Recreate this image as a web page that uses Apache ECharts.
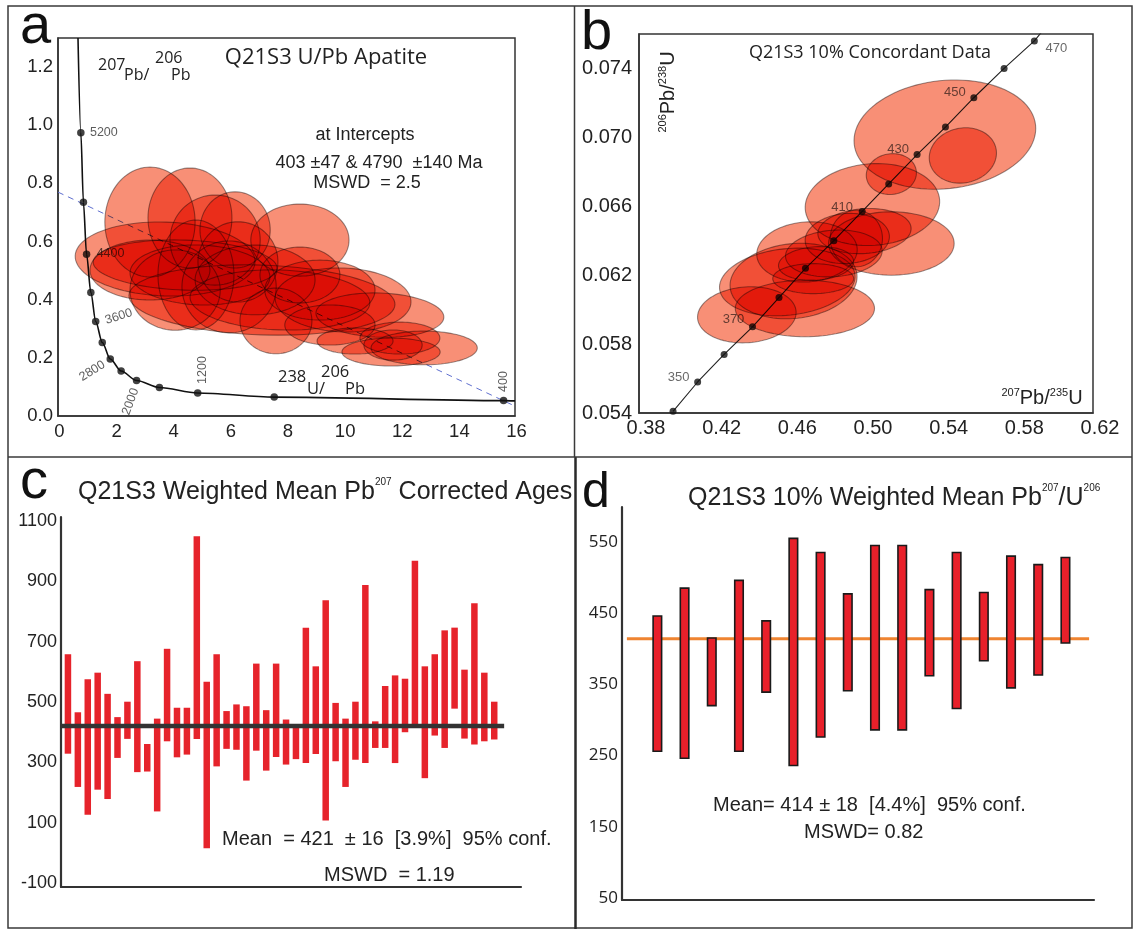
<!DOCTYPE html>
<html>
<head>
<meta charset="utf-8">
<title>Q21S3 apatite U/Pb</title>
<script src="https://cdn.jsdelivr.net/npm/echarts@6/dist/echarts.min.js"></script>
<style>
  html, body { margin: 0; padding: 0; background: #ffffff; }
  #chart { width: 1133px; height: 929px; }
</style>
</head>
<body>
<div id="chart"></div>
<script>
// ---------------- a: Tera-Wasserburg plot ----------------
const twAges = [5200, 4800, 4400, 4000, 3600, 3200, 2800, 2400, 2000, 1600, 1200, 800, 400];
const twX = [0.80, 0.89, 1.00, 1.15, 1.32, 1.55, 1.83, 2.21, 2.75, 3.55, 4.89, 7.57, 15.60];
const twY = [0.974, 0.735, 0.556, 0.425, 0.325, 0.253, 0.196, 0.155, 0.122, 0.098, 0.079, 0.065, 0.053];
const twCurveTop = [0.70, 1.30];
const twCurveEnd = [16.0, 0.052];
const twLabelled = [5200, 4400, 3600, 2800, 2000, 1200, 400];
const discordia = [[0, 0.770], [16, 0.034]];
const aXTicks = [0, 2, 4, 6, 8, 10, 12, 14, 16];
const aYTicks = [0, 0.2, 0.4, 0.6, 0.8, 1.0, 1.2];

// error ellipses: centre, semi-axes, tilt (deg)
const aCx = [3.22, 4.62, 5.50, 8.47, 6.30, 3.75, 4.45, 3.22, 4.97, 4.83, 5.99, 7.14, 7.77, 7.63, 9.17, 11.27, 9.98, 12.82, 11.66, 10.40, 11.73, 9.52, 11.97, 6.90, 4.10, 8.47, 6.20];
const aCy = [0.667, 0.681, 0.605, 0.605, 0.530, 0.540, 0.519, 0.502, 0.485, 0.485, 0.444, 0.399, 0.399, 0.327, 0.433, 0.347, 0.399, 0.234, 0.220, 0.258, 0.244, 0.313, 0.268, 0.468, 0.433, 0.485, 0.640];
const aRx = [1.58, 1.47, 1.58, 1.72, 1.40, 3.15, 3.22, 2.10, 2.45, 1.33, 1.65, 4.66, 3.15, 1.26, 1.93, 2.24, 2.38, 1.86, 1.72, 1.33, 1.02, 1.58, 1.40, 2.10, 1.58, 1.40, 1.23];
const aRy = [0.189, 0.172, 0.155, 0.124, 0.138, 0.127, 0.086, 0.103, 0.103, 0.189, 0.158, 0.120, 0.103, 0.113, 0.103, 0.076, 0.110, 0.058, 0.048, 0.045, 0.052, 0.069, 0.055, 0.120, 0.138, 0.096, 0.131];
const aTilt = [0, 0, 0, 0, 0, -2, -2, 0, -2, 0, 0, -2, -2, 0, 0, -2, -2, 0, 0, 0, 0, 0, 0, 0, 0, 0, 0];

// ---------------- b: Wetherill concordia ----------------
const wAges = [340, 350, 360, 370, 380, 390, 400, 410, 420, 430, 440, 450, 460, 470];
const wX = [0.398, 0.411, 0.425, 0.440, 0.454, 0.468, 0.483, 0.498, 0.512, 0.527, 0.542, 0.557, 0.573, 0.589];
const wY = [0.0541, 0.0558, 0.0574, 0.0590, 0.0607, 0.0624, 0.0640, 0.0657, 0.0673, 0.0690, 0.0706, 0.0723, 0.0740, 0.0756];
const wLineEnd = [0.5935, 0.0762];
const wLabelled = [350, 370, 410, 430, 450, 470];
const bXTicks = [0.38, 0.42, 0.46, 0.50, 0.54, 0.58, 0.62];
const bYTicks = [0.054, 0.058, 0.062, 0.066, 0.070, 0.074];

const bCx = [0.5417, 0.5512, 0.5134, 0.5034, 0.5134, 0.4992, 0.4901, 0.4949, 0.4688, 0.4617, 0.4584, 0.4677, 0.4370, 0.4721, 0.4736, 0.4830];
const bCy = [0.07016, 0.06895, 0.06787, 0.06610, 0.06384, 0.06456, 0.06413, 0.06413, 0.06335, 0.06166, 0.06161, 0.06007, 0.05970, 0.06180, 0.06268, 0.06326];
const bRx = [0.0482, 0.0179, 0.0133, 0.0356, 0.0332, 0.0247, 0.0223, 0.0138, 0.0266, 0.0337, 0.0360, 0.0368, 0.0261, 0.0214, 0.0199, 0.0256];
const bRy = [0.00314, 0.00159, 0.00118, 0.00237, 0.00184, 0.00130, 0.00145, 0.00164, 0.00174, 0.00217, 0.00193, 0.00164, 0.00162, 0.00087, 0.00097, 0.00135];
const bTilt = [6, 12, 8, 4, 0, 4, 4, 0, 4, 6, 6, 0, 4, 0, 4, 4];

// ---------------- c: weighted mean, Pb207-corrected ages (Ma) ----------------
const cLow  = [329, 219, 127, 210, 179, 315, 378, 268, 270, 138, 370, 317, 326, 378, 16, 287, 345, 342, 240, 339, 273, 318, 293, 311, 298, 328, 108, 304, 219, 309, 298, 348, 348, 298, 400, 418, 248, 389, 348, 478, 379, 359, 370, 376];
const cHigh = [658, 466, 575, 597, 527, 450, 501, 635, 361, 445, 676, 481, 481, 1048, 567, 658, 470, 492, 486, 627, 473, 627, 442, 422, 746, 618, 837, 497, 445, 501, 887, 436, 553, 588, 577, 967, 618, 658, 737, 746, 607, 827, 597, 501];
const cMean = 421, cErr = 16, cPct = '3.9', cMswd = '1.19';
const cYTicks = [-100, 100, 300, 500, 700, 900, 1100];

// ---------------- d: 10% concordant weighted mean (Ma) ----------------
const dLow  = [256, 246, 320, 256, 339, 236, 276, 341, 286, 286, 362, 316, 383, 345, 363, 408];
const dHigh = [446, 485, 415, 496, 439, 555, 535, 477, 545, 545, 483, 535, 479, 530, 518, 528];
const dMean = 414, dErr = 18, dPct = '4.4', dMswd = '0.82';
const dYTicks = [50, 150, 250, 350, 450, 550];

// ---------------- drawing ----------------
const ARIAL = '"Liberation Sans", Arial, sans-serif';
const HUMAN = '"Open Sans", "Noto Sans", sans-serif';
const INK = '#222';

const chart = echarts.init(document.getElementById('chart'), null, { renderer: 'canvas', width: 1133, height: 929 });

// ellipses are multiplied onto the page so overlaps build up to deep red
function ellipseRenderer(fill, stroke, lw) {
  return function (params, api) {
    const c = api.coord([api.value(0), api.value(1)]);
    const s = api.size([api.value(2), api.value(3)]);
    const t = api.value(4) * Math.PI / 180;
    const pts = [];
    const n = 96;
    for (let k = 0; k < n; k++) {
      const th = (k / n) * Math.PI * 2;
      const ex = s[0] * Math.cos(th), ey = s[1] * Math.sin(th);
      pts.push([c[0] + ex * Math.cos(t) - ey * Math.sin(t), c[1] - (ex * Math.sin(t) + ey * Math.cos(t))]);
    }
    return { type: 'polygon', name: 'errEllipse', shape: { points: pts },
      style: { fill: fill, stroke: stroke, lineWidth: lw, blend: 'multiply' } };
  };
}

function barRenderer(width, fill, stroke, lw) {
  return function (params, api) {
    const top = api.coord([api.value(0), api.value(2)]);
    const bot = api.coord([api.value(0), api.value(1)]);
    return {
      type: 'rect',
      shape: { x: top[0] - width / 2, y: top[1], width: width, height: bot[1] - top[1] },
      style: { fill: fill, stroke: stroke, lineWidth: lw }
    };
  };
}

function valueAxis(grid, min, max, ticks, fmt, labelStyle, lineW) {
  return {
    type: 'value', gridIndex: grid, min: min, max: max,
    splitLine: { show: false }, axisTick: { show: false },
    axisLine: { show: true, onZero: false, lineStyle: { color: '#333', width: lineW } },
    axisLabel: Object.assign({ customValues: ticks, formatter: fmt, color: INK }, labelStyle)
  };
}

const ellipseFill = 'rgba(245, 105, 72, 0.75)';
const ellipseStroke = 'rgba(120, 115, 115, 0.75)';

// label placement around the concordia age markers (screen offset in px, rotation in deg)
const twLabelPlace = {
  5200: { offset: [23, 0], rotate: 0 },
  4400: { offset: [24, -1], rotate: 0 },
  3600: { offset: [23, -5], rotate: 18 },
  2800: { offset: [-18, 12], rotate: 32 },
  2000: { offset: [-6, 21], rotate: 70 },
  1200: { offset: [5, -23], rotate: 90 },
  400:  { offset: [0, -19], rotate: 90 }
};
const wLabelPlace = {
  350: { offset: [-19, -5] },
  370: { offset: [-19, -7] },
  410: { offset: [-20, -4] },
  430: { offset: [-19, -5] },
  450: { offset: [-19, -5] },
  470: { offset: [22, 8] }
};

// label offsets are applied in the label's rotated frame, so turn them back first
function localOffset(d, deg) {
  const th = deg * Math.PI / 180;
  return [d[0] * Math.cos(th) - d[1] * Math.sin(th), d[0] * Math.sin(th) + d[1] * Math.cos(th)];
}

const twDots = twAges.map((age, i) => {
  const item = { value: [twX[i], twY[i]] };
  if (twLabelled.indexOf(age) >= 0) {
    const p = twLabelPlace[age];
    item.label = { show: true, formatter: String(age), position: 'inside', offset: localOffset(p.offset, p.rotate), rotate: p.rotate,
      color: '#333', fontFamily: ARIAL, fontSize: 12.5 };
  }
  return item;
});
const twCurve = [twCurveTop].concat(twX.map((x, i) => [x, twY[i]])).concat([twCurveEnd]);

const wDots = wAges.map((age, i) => {
  const item = { value: [wX[i], wY[i]] };
  if (wLabelled.indexOf(age) >= 0) {
    item.label = { show: true, formatter: String(age), position: 'inside', offset: wLabelPlace[age].offset,
      color: '#444', fontFamily: ARIAL, fontSize: 13 };
  }
  return item;
});
const wCurve = wX.map((x, i) => [x, wY[i]]).concat([wLineEnd]);

const aEllipses = aCx.map((x, i) => [x, aCy[i], aRx[i], aRy[i], aTilt[i]]);
const bEllipses = bCx.map((x, i) => [x, bCy[i], bRx[i], bRy[i], bTilt[i]]);
const cBars = cLow.map((lo, i) => [i + 1, lo, cHigh[i]]);
const dBars = dLow.map((lo, i) => [i + 1, lo, dHigh[i]]);

function text(x, y, str, font, extra) {
  return Object.assign({
    type: 'text', x: x, y: y, z: 50,
    style: Object.assign({ text: str, font: font, fill: INK, align: 'left', verticalAlign: 'middle',
      textAlign: 'left', textVerticalAlign: 'middle' }, extra && extra.style)
  }, extra && extra.el);
}

const supTitle = (main1, sup, main2, size) => ({
  text: '{n|' + main1 + '}{s|' + sup + '}' + (main2 ? '{n|' + main2 + '}' : ''),
  rich: {
    n: { fontSize: size, fontFamily: ARIAL, lineHeight: size + 4, fill: INK, color: INK },
    s: { fontSize: 10, fontFamily: ARIAL, lineHeight: 12, verticalAlign: 'top', fill: INK, color: INK }
  }
});

const graphics = [
  // frame and panel dividers
  { type: 'rect', z: 60, shape: { x: 8, y: 6, width: 1124, height: 922 }, style: { fill: 'none', stroke: '#3a3a3a', lineWidth: 1.5 } },
  { type: 'line', z: 60, shape: { x1: 574.5, y1: 6, x2: 574.5, y2: 457 }, style: { stroke: '#3a3a3a', lineWidth: 1.5 } },
  { type: 'line', z: 60, shape: { x1: 575.5, y1: 457, x2: 575.5, y2: 929 }, style: { stroke: '#2a2a2a', lineWidth: 2.5 } },
  { type: 'line', z: 60, shape: { x1: 8, y1: 457, x2: 1132, y2: 457 }, style: { stroke: '#3a3a3a', lineWidth: 1.5 } },

  // panel letters
  text(20, 28, 'a', '56px ' + ARIAL, { style: { fill: '#111' } }),
  text(581, 34, 'b', '56px ' + ARIAL, { style: { fill: '#111' } }),
  text(20, 483, 'c', '56px ' + ARIAL, { style: { fill: '#111' } }),
  text(582, 493, 'd', '50px ' + ARIAL, { style: { fill: '#111' } }),

  // a annotations
  text(326, 58, 'Q21S3 U/Pb Apatite', '22px ' + HUMAN, { style: { align: 'center', textAlign: 'center' } }),
  text(98, 65, '207', '16px ' + HUMAN),
  text(124, 75, 'Pb/', '16px ' + HUMAN),
  text(155, 58, '206', '16px ' + HUMAN),
  text(171, 75, 'Pb', '16px ' + HUMAN),
  text(278, 377, '238', '16.5px ' + HUMAN),
  text(307, 389, 'U/', '16.5px ' + HUMAN),
  text(321, 372, '206', '16.5px ' + HUMAN),
  text(345, 389, 'Pb', '16.5px ' + HUMAN),
  text(365, 135, 'at Intercepts', '18px ' + ARIAL, { style: { align: 'center', textAlign: 'center' } }),
  text(379, 163, '403 \u00b147 & 4790  \u00b1140 Ma', '18px ' + ARIAL, { style: { align: 'center', textAlign: 'center' } }),
  text(367, 183, 'MSWD  = 2.5', '18px ' + ARIAL, { style: { align: 'center', textAlign: 'center' } }),

  // b annotations
  text(870, 53, 'Q21S3 10% Concordant Data', '18px ' + HUMAN, { style: { align: 'center', textAlign: 'center' } }),
  {
    type: 'text', x: 668, y: 92, z: 50, rotation: Math.PI / 2,
    style: {
      text: '{s|206}{n|Pb/}{s|238}{n|U}', align: 'center', verticalAlign: 'middle', textAlign: 'center', textVerticalAlign: 'middle',
      rich: {
        n: { fontSize: 20, fontFamily: ARIAL, lineHeight: 22, fill: INK, color: INK },
        s: { fontSize: 11, fontFamily: ARIAL, lineHeight: 13, verticalAlign: 'top', fill: INK, color: INK }
      }
    }
  },
  {
    type: 'text', x: 1042, y: 398, z: 50,
    style: {
      text: '{s|207}{n|Pb/}{s|235}{n|U}', align: 'center', verticalAlign: 'middle', textAlign: 'center', textVerticalAlign: 'middle',
      rich: {
        n: { fontSize: 20, fontFamily: ARIAL, lineHeight: 22, fill: INK, color: INK },
        s: { fontSize: 11, fontFamily: ARIAL, lineHeight: 13, verticalAlign: 'top', fill: INK, color: INK }
      }
    }
  },

  // c annotations
  { type: 'text', x: 78, y: 492, z: 50, style: Object.assign({ align: 'left', verticalAlign: 'middle', textAlign: 'left', textVerticalAlign: 'middle' },
      supTitle('Q21S3 Weighted Mean Pb', '207', ' Corrected Ages', 25)) },
  text(222, 839, 'Mean  = ' + cMean + '  \u00b1 ' + cErr + '  [' + cPct + '%]  95% conf.', '20px ' + ARIAL),
  text(324, 875, 'MSWD  = ' + cMswd, '20px ' + ARIAL),

  // d annotations
  { type: 'text', x: 688, y: 498, z: 50, style: Object.assign({ align: 'left', verticalAlign: 'middle', textAlign: 'left', textVerticalAlign: 'middle' },
      { text: '{n|Q21S3 10% Weighted Mean Pb}{s|207}{n|/U}{s|206}',
        rich: {
          n: { fontSize: 25, fontFamily: ARIAL, lineHeight: 29, fill: INK, color: INK },
          s: { fontSize: 10, fontFamily: ARIAL, lineHeight: 12, verticalAlign: 'top', fill: INK, color: INK }
        } }) },
  text(713, 805, 'Mean= ' + dMean + ' \u00b1 ' + dErr + '  [' + dPct + '%]  95% conf.', '20px ' + ARIAL),
  text(804, 832, 'MSWD= ' + dMswd, '20px ' + ARIAL)
];

const option = {
  animation: false,
  backgroundColor: '#ffffff',
  grid: [
    { left: 58, top: 38, width: 457, height: 378, show: true, borderColor: '#333', borderWidth: 1.5, backgroundColor: 'transparent' },
    { left: 639, top: 34, width: 454, height: 379, show: true, borderColor: '#333', borderWidth: 1.5, backgroundColor: 'transparent' },
    { left: 61, top: 517, width: 460, height: 370 },
    { left: 622, top: 507, width: 472, height: 393 }
  ],
  xAxis: [
    valueAxis(0, 0, 16, aXTicks, v => String(v), { fontFamily: ARIAL, fontSize: 18.5, margin: 6, padding: [0, 0, 0, 3] }, 1.5),
    valueAxis(1, 0.38, 0.62, bXTicks, v => v.toFixed(2), { fontFamily: ARIAL, fontSize: 20, margin: 5, padding: [0, 0, 0, 14] }, 1.5),
    valueAxis(2, 0.3, 46.7, [], v => '', { show: false }, 2.2),
    valueAxis(3, -0.3, 17.05, [], v => '', { show: false }, 2.2)
  ],
  yAxis: [
    valueAxis(0, 0, 1.3, aYTicks, v => v.toFixed(1), { fontFamily: ARIAL, fontSize: 18.5, margin: 5 }, 1.5),
    valueAxis(1, 0.054, 0.076, bYTicks, v => v.toFixed(3), { fontFamily: ARIAL, fontSize: 20, margin: 7 }, 1.5),
    valueAxis(2, -112, 1112, cYTicks, v => String(v), { fontFamily: ARIAL, fontSize: 18, margin: 4 }, 2.2),
    valueAxis(3, 47, 599, dYTicks, v => String(v), { fontFamily: HUMAN, fontSize: 17, margin: 4 }, 2.2)
  ],
  series: [
    // a
    { type: 'line', xAxisIndex: 0, yAxisIndex: 0, z: 2, data: discordia, symbol: 'none',
      lineStyle: { color: '#5f6fcf', width: 1, type: [6, 5] } },
    { type: 'line', xAxisIndex: 0, yAxisIndex: 0, z: 3, data: twCurve, symbol: 'none', smooth: 0.3, smoothMonotone: 'x',
      lineStyle: { color: '#111', width: 1.6 } },
    { type: 'scatter', xAxisIndex: 0, yAxisIndex: 0, z: 4, data: twDots, symbol: 'circle', symbolSize: 7.5,
      itemStyle: { color: '#111' } },
    { type: 'custom', xAxisIndex: 0, yAxisIndex: 0, z: 5, data: aEllipses, renderItem: ellipseRenderer(ellipseFill, ellipseStroke, 1.1) },
    // b
    { type: 'line', xAxisIndex: 1, yAxisIndex: 1, z: 3, data: wCurve, symbol: 'none',
      lineStyle: { color: '#222', width: 1.1 } },
    { type: 'scatter', xAxisIndex: 1, yAxisIndex: 1, z: 4, data: wDots, symbol: 'circle', symbolSize: 7,
      itemStyle: { color: '#111' } },
    { type: 'custom', xAxisIndex: 1, yAxisIndex: 1, z: 5, data: bEllipses, renderItem: ellipseRenderer(ellipseFill, ellipseStroke, 1.1) },
    // c
    { type: 'custom', xAxisIndex: 2, yAxisIndex: 2, z: 3, data: cBars, renderItem: barRenderer(6.5, '#e6232b', null, 0) },
    { type: 'line', xAxisIndex: 2, yAxisIndex: 2, z: 4, data: [[0.3, cMean], [45, cMean]], symbol: 'none',
      lineStyle: { color: '#333', width: 4.5 } },
    // d
    { type: 'line', xAxisIndex: 3, yAxisIndex: 3, z: 2, data: [[-0.12, dMean], [16.87, dMean]], symbol: 'none',
      lineStyle: { color: '#ef8431', width: 3 } },
    { type: 'custom', xAxisIndex: 3, yAxisIndex: 3, z: 3, data: dBars, renderItem: barRenderer(8.5, '#e8202a', '#1a1a1a', 1.6) }
  ],
  graphic: graphics
};

chart.setOption(option);

// make sure the ellipse polygons composite with 'multiply'
(function applyMultiply() {
  const zr = chart.getZr();
  zr.storage.getDisplayList(true).forEach(function (el) {
    if (el.name === 'errEllipse' && el.style) {
      el.style.blend = 'multiply';
      if (el.markRedraw) el.markRedraw(); else if (el.dirty) el.dirty();
    }
  });
  if (zr.refreshImmediately) zr.refreshImmediately();
})();
</script>
</body>
</html>
